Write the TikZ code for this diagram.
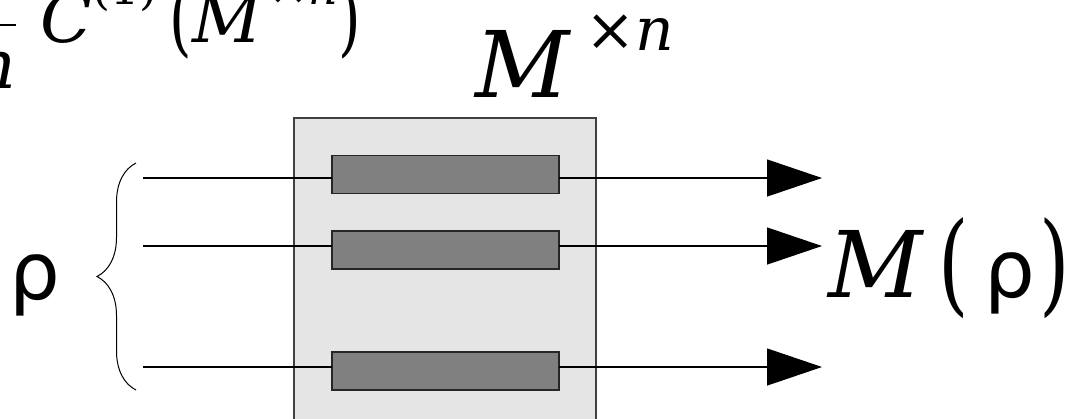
\RequirePackage{fix-cm}
\documentclass[tikz,border=0pt]{standalone}
\usepackage{amsmath}
\usepackage{graphicx}
\usepackage{fontspec}
\setmainfont{DejaVu Serif}
\newfontfamily\dvsans{DejaVu Sans}
\newcommand{\tallparen}[1]{\raisebox{-2pt}{\scalebox{0.85}[1.2]{#1}}}
\usepackage{tikz}
\usetikzlibrary{arrows.meta, positioning, decorations.pathreplacing}

\begin{document}
\begin{tikzpicture}[x=0.5pt,y=-0.5pt,inner sep=0pt,outer sep=0pt,
  chanbox/.style={draw=black!75,fill=black!10,line width=0.6pt,minimum width=151pt,minimum height=171pt},
  gatebox/.style={draw=black!85,fill=black!50,line width=0.6pt,minimum width=113.5pt,minimum height=19pt},
  wire/.style={line width=0.6pt},
  outwire/.style={wire,-{Triangle[length=27.5pt,width=18.5pt]}},
  biglbl/.style={font=\fontsize{46}{50}\selectfont}]
\useasboundingbox (0,0) rectangle (1068,418);
% channel block M^{x n}
\node[chanbox,anchor=north] (chan) at (445,118) {};
\node[gatebox] (gate1) at (445.5,174.5) {};
\node[gatebox] (gate2) at (445.5,250) {};
\node[gatebox] (gate3) at (445.5,371) {};
\coordinate (in1) at (143,178);
\coordinate (in2) at (143,246);
\coordinate (in3) at (143,367);
\coordinate (out1) at (822,178);
\coordinate (out2) at (822,246);
\coordinate (out3) at (822,367);
\foreach \i in {1,2,3} {
  \draw[wire] (in\i) -- (in\i -| gate\i.west);
  \draw[outwire] (in\i -| gate\i.east) -- (out\i);
}
% input state
\coordinate (bracetop) at (136,163);
\coordinate (bracebot) at (136,390);
\draw[line width=0.5pt,decorate,decoration={brace,amplitude=19.5pt}] (bracebot) -- (bracetop);
\node[anchor=base,font=\fontsize{40}{44}\selectfont\dvsans] (rho) at (35,299) {ρ};
% labels
\node[biglbl,anchor=base west] (meas) at (828,297)
  {{\itshape M}\hspace{8pt}\tallparen{(}\hspace{8pt}{\fontsize{40}{44}\selectfont\dvsans ρ}\hspace{2pt}\tallparen{)}};
\node[biglbl,anchor=base west] (chanlbl) at (475,97)
  {{\itshape M}\hspace{8pt}\raisebox{23.5pt}{\fontsize{30}{34}\selectfont ×\itshape n}};
\node[anchor=base west,font=\fontsize{34}{38}\selectfont] (ratelbl) at (-30,42)
  {$\dfrac{\text{1}}{\text{\itshape n}}$\hspace{11pt}{\itshape C}\raisebox{19pt}{\fontsize{23}{27}\selectfont(1)}\hspace{6pt}\tallparen{(}{\itshape M}\hspace{4pt}\raisebox{19pt}{\fontsize{23}{27}\selectfont ×\itshape n}\tallparen{)}};
\end{tikzpicture}
\end{document}
